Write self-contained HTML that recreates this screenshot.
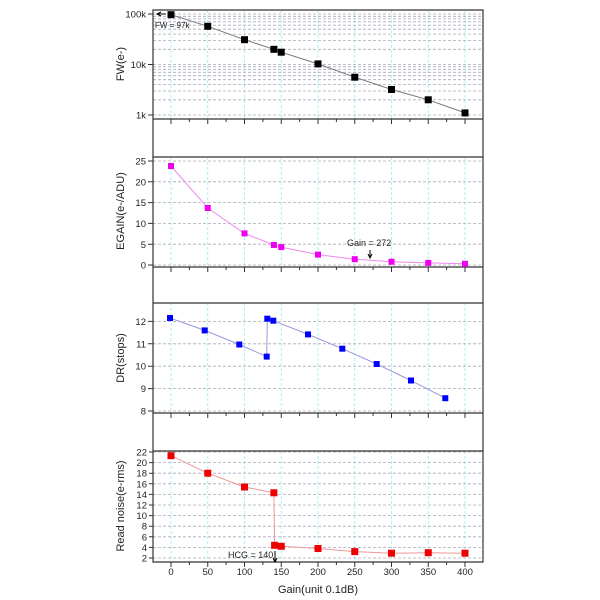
<!DOCTYPE html>
<html><head><style>body{margin:0;background:#fff}svg{display:block}text{font-family:"Liberation Sans",sans-serif;fill:#222}</style></head><body>
<svg width="600" height="600" viewBox="0 0 600 600" xmlns="http://www.w3.org/2000/svg">
<g stroke="#9ee" stroke-dasharray="3,2" stroke-width="0.8">
<path d="M171 10V119M207.75 10V119M244.5 10V119M281.25 10V119M318 10V119M354.75 10V119M391.5 10V119M428.25 10V119M465 10V119"/>
<path d="M171 157V267M207.75 157V267M244.5 157V267M281.25 157V267M318 157V267M354.75 157V267M391.5 157V267M428.25 157V267M465 157V267"/>
<path d="M171 303V413M207.75 303V413M244.5 303V413M281.25 303V413M318 303V413M354.75 303V413M391.5 303V413M428.25 303V413M465 303V413"/>
<path d="M171 451V562M207.75 451V562M244.5 451V562M281.25 451V562M318 451V562M354.75 451V562M391.5 451V562M428.25 451V562M465 451V562"/>
</g>
<g stroke="#aab" stroke-dasharray="3,2" stroke-width="0.8">
<path d="M153 14H483M153 64.5H483M153 115H483
M153 99.8H483M153 91H483M153 84.6H483M153 79.7H483M153 75.7H483M153 72.3H483M153 69.4H483M153 66.8H483
M153 49.3H483M153 40.5H483M153 34.1H483M153 29.2H483M153 25.2H483M153 21.8H483M153 18.9H483M153 16.3H483"/>
<path d="M153 161H483M153 181.8H483M153 202.6H483M153 223.4H483M153 244.2H483M153 265H483"/>
<path d="M153 321.4H483M153 343.8H483M153 366.2H483M153 388.6H483M153 411H483"/>
<path d="M153 452H483M153 462.6H483M153 473.2H483M153 483.8H483M153 494.4H483M153 505H483M153 515.6H483M153 526.2H483M153 536.8H483M153 547.4H483M153 558H483"/>
</g>
<g stroke="#333" stroke-width="1.2" fill="none">
<path d="M153 10V562H483V10ZM153 119H483M153 157H483M153 267H483M153 303H483M153 413H483M153 451H483"/>
</g>
<g stroke="#333" stroke-width="1">
<path id="xt" d="M171 119v5M207.75 119v5M244.5 119v5M281.25 119v5M318 119v5M354.75 119v5M391.5 119v5M428.25 119v5M465 119v5M189.4 119v3M226.1 119v3M262.9 119v3M299.6 119v3M336.4 119v3M373.1 119v3M409.9 119v3M446.6 119v3"/>
<use href="#xt" y="148"/><use href="#xt" y="294"/><use href="#xt" y="443"/>
<path d="M153 14h-5M153 64.5h-5M153 115h-5M153 161h-5M153 181.8h-5M153 202.6h-5M153 223.4h-5M153 244.2h-5M153 265h-5M153 321.4h-5M153 343.8h-5M153 366.2h-5M153 388.6h-5M153 411h-5M153 452h-4M153 462.6h-4M153 473.2h-4M153 483.8h-4M153 494.4h-4M153 505h-4M153 515.6h-4M153 526.2h-4M153 536.8h-4M153 547.4h-4M153 558h-4"/>
</g>
<g font-size="9.5" text-anchor="end">
<text x="146" y="17.5">100k</text><text x="146" y="68">10k</text><text x="146" y="118.5">1k</text>
<text x="146" y="164.5">25</text><text x="146" y="185.3">20</text><text x="146" y="206">15</text><text x="146" y="227">10</text><text x="146" y="248">5</text><text x="146" y="268.5">0</text>
<text x="146" y="325">12</text><text x="146" y="347.3">11</text><text x="146" y="369.7">10</text><text x="146" y="392">9</text><text x="146" y="414.5">8</text>
<text x="147" y="455.5">22</text><text x="147" y="466">20</text><text x="147" y="476.7">18</text><text x="147" y="487.3">16</text><text x="147" y="498">14</text><text x="147" y="508.5">12</text><text x="147" y="519">10</text><text x="147" y="529.7">8</text><text x="147" y="540.3">6</text><text x="147" y="551">4</text><text x="147" y="561.5">2</text>
</g>
<g font-size="9.5" text-anchor="middle">
<text x="171" y="575">0</text><text x="207.75" y="575">50</text><text x="244.5" y="575">100</text><text x="281.25" y="575">150</text><text x="318" y="575">200</text><text x="354.75" y="575">250</text><text x="391.5" y="575">300</text><text x="428.25" y="575">350</text><text x="465" y="575">400</text>
<text x="318" y="593" font-size="11">Gain(unit 0.1dB)</text>
</g>
<g font-size="11" text-anchor="middle">
<text transform="translate(124,64) rotate(-90)">FW(e-)</text>
<text transform="translate(124,211) rotate(-90)">EGAIN(e-/ADU)</text>
<text transform="translate(124,358) rotate(-90)">DR(stops)</text>
<text transform="translate(124,506) rotate(-90)">Read noise(e-rms)</text>
</g>
<polyline fill="none" stroke="#777" points="171,14.7 207.75,26.3 244.5,39.7 273.9,49.3 281.25,52.2 318,63.9 354.75,77.2 391.5,89.5 428.25,99.8 465,112.9"/>
<g fill="#000"><rect x="167.5" y="11.2" width="7" height="7"/><rect x="204.25" y="22.8" width="7" height="7"/><rect x="241" y="36.2" width="7" height="7"/><rect x="270.4" y="45.8" width="7" height="7"/><rect x="277.75" y="48.7" width="7" height="7"/><rect x="314.5" y="60.4" width="7" height="7"/><rect x="351.25" y="73.7" width="7" height="7"/><rect x="388" y="86" width="7" height="7"/><rect x="424.75" y="96.3" width="7" height="7"/><rect x="461.5" y="109.4" width="7" height="7"/></g>
<path d="M166 14H158M161 12L157 14L161 16" stroke="#000" fill="none"/>
<text x="155" y="28" font-size="8">FW = 97k</text>
<polyline fill="none" stroke="#e8e" points="171,166 207.75,208 244.5,233.4 273.9,245 281.25,247.1 318,254.6 354.75,259.2 391.5,261.7 428.25,262.9 465,263.8"/>
<g fill="#e0e"><rect x="168" y="163" width="6" height="6"/><rect x="204.75" y="205" width="6" height="6"/><rect x="241.5" y="230.4" width="6" height="6"/><rect x="270.9" y="242" width="6" height="6"/><rect x="278.25" y="244.1" width="6" height="6"/><rect x="315" y="251.6" width="6" height="6"/><rect x="351.75" y="256.2" width="6" height="6"/><rect x="388.5" y="258.7" width="6" height="6"/><rect x="425.25" y="259.9" width="6" height="6"/><rect x="462" y="260.8" width="6" height="6"/></g>
<text x="347" y="246" font-size="9">Gain = 272</text>
<path d="M370 250V258M368 254L370 258L372 254" stroke="#000" fill="none"/>
<polyline fill="none" stroke="#99d" points="170,318 204.7,330.4 239.3,344.5 266.7,356.6 267.3,318.7 273.3,320.7 308,334.4 342.3,348.7 376.7,364 411,380.5 445.3,398.2"/>
<g fill="#00f"><rect x="167" y="315" width="6" height="6"/><rect x="201.7" y="327.4" width="6" height="6"/><rect x="236.3" y="341.5" width="6" height="6"/><rect x="263.7" y="353.6" width="6" height="6"/><rect x="264.3" y="315.7" width="6" height="6"/><rect x="270.3" y="317.7" width="6" height="6"/><rect x="305" y="331.4" width="6" height="6"/><rect x="339.3" y="345.7" width="6" height="6"/><rect x="373.7" y="361" width="6" height="6"/><rect x="408" y="377.5" width="6" height="6"/><rect x="442.3" y="395.2" width="6" height="6"/></g>
<polyline fill="none" stroke="#e99" points="171,455.7 207.75,473.2 244.5,487 273.9,492.8 274.6,545.3 281.25,546.3 318,548.5 354.75,551.6 391.5,553.2 428.25,552.7 465,553.2"/>
<g fill="#e00"><rect x="167.5" y="452.2" width="7" height="7"/><rect x="204.25" y="469.7" width="7" height="7"/><rect x="241" y="483.5" width="7" height="7"/><rect x="270.4" y="489.3" width="7" height="7"/><rect x="271.1" y="541.8" width="7" height="7"/><rect x="277.75" y="542.8" width="7" height="7"/><rect x="314.5" y="545" width="7" height="7"/><rect x="351.25" y="548.1" width="7" height="7"/><rect x="388" y="549.7" width="7" height="7"/><rect x="424.75" y="549.2" width="7" height="7"/><rect x="461.5" y="549.7" width="7" height="7"/></g>
<text x="228" y="558" font-size="9">HCG = 140</text>
<path d="M275 551V562M273 558L275 562L277 558" stroke="#000" fill="none"/>
</svg>
</body></html>
